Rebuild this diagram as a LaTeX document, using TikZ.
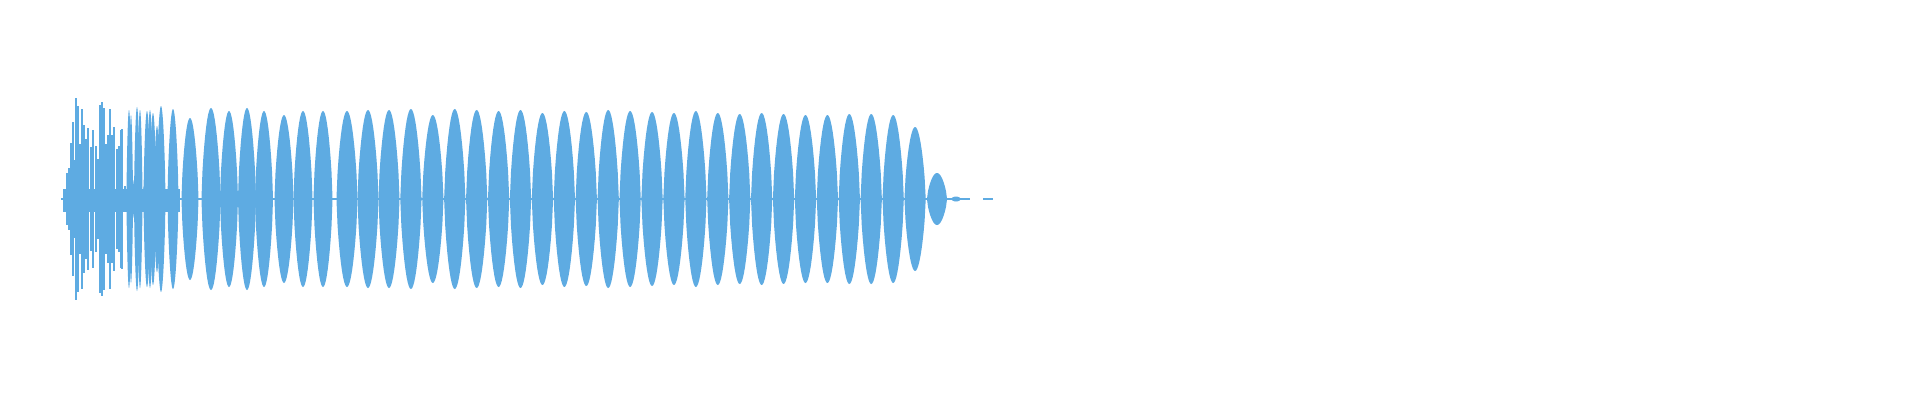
\documentclass[tikz,border=0pt]{standalone}
\definecolor{wavec}{RGB}{94,171,226}
\begin{document}
\begin{tikzpicture}[x=1pt,y=-1pt,wave/.style={fill=wavec,draw=none}]
\useasboundingbox (0,0) rectangle (1920,400);
\def\cy{199}
\newcommand{\lobe}[3]{\fill[wave] plot[domain=-#3*0.999:#3*0.999,samples=21] ({#1+\x},{\cy-#2*(abs(cos(90*\x/#3))+0.0001)^0.65}) -- plot[domain=#3*0.999:-#3*0.999,samples=21] ({#1+\x},{\cy+#2*(abs(cos(90*\x/#3))+0.0001)^0.65}) -- cycle;}
\newcommand{\spike}[3]{\fill[wave] (#1-#3,\cy-#2) rectangle (#1+#3,\cy+#2);}
% central band
\fill[wave] (63,\cy-10) rectangle (180,\cy+13);
\fill[wave] (61,\cy-1.2) rectangle (970,\cy+1.2);
\fill[wave] (983,\cy-0.8) rectangle (993,\cy+0.8);
% chaotic spikes x/amp/halfwidth
\foreach \px/\pa in {65/10,67/26,69/31,71/56,73/77,75/39,76/101,78/93,80/55,82/90,84/74,86/60,88/71,91/52,93/69,96/53,98/40,100/94,102/97,104/91,106/55,108/64,110/90,112/64,114/72,117/50,119/53,121/69,122/70,125/13} {\spike{\px}{\pa}{0.8}}
\foreach \px/\pa/\pw in {129/89/2.5,131/84/2,134/19/1.5,137/92/3,140/89/2.5,144/13/1.5,147/88/3.5,150/89/3,153/86/3.5,157/73/3,161/93/4.5,173/90/5.5,190/81/8.5,211/91/9.5,229/88/9,247/91/9,264/88/9,284/84/9.5,303/88/9.5,323/88/9.5,347/88/10.5,368/89/10.5,389/89/10.5} {\lobe{\px}{\pa}{\pw}}
% regular lobes
\foreach \k/\pa in {1/90,2/84,3/90,4/89,5/88,6/89,7/86,8/88,9/87,10/89,11/88,12/87,13/86,14/88,15/86,16/85,17/86,18/85,19/84,20/84,21/85,22/85,23/84,24/72}{
  \pgfmathsetmacro{\px}{389+21.92*\k}
  \lobe{\px}{\pa}{10.6}}
\lobe{937}{26}{10}
\lobe{956}{2.5}{5}
\end{tikzpicture}
\end{document}
